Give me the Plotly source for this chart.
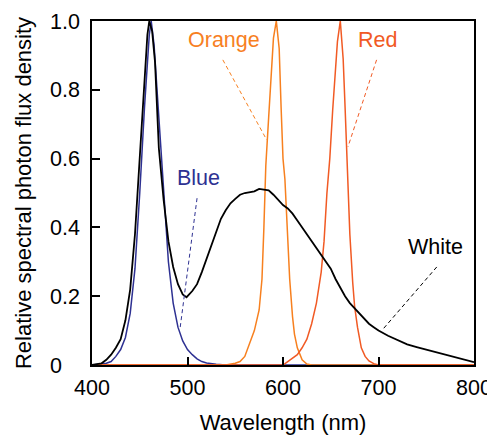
import plotly.graph_objects as go

# ---- data ----
blue_wl = [400, 410, 415, 420, 425, 430, 435, 440, 445, 450, 455, 460, 462, 465, 470, 475, 480, 485, 490, 495, 500, 505, 510, 515, 520, 530, 540, 560, 600, 700, 800]
blue_val = [0, 0.002, 0.005, 0.01, 0.025, 0.045, 0.08, 0.15, 0.28, 0.5, 0.75, 0.96, 1.0, 0.93, 0.72, 0.5, 0.3, 0.18, 0.11, 0.07, 0.045, 0.03, 0.018, 0.01, 0.006, 0.002, 0, 0, 0, 0, 0]

white_wl = [400, 410, 415, 420, 425, 430, 435, 440, 445, 450, 455, 458, 460, 463, 466, 470, 475, 480, 485, 490, 495, 499,
            505, 510, 515, 520, 525, 530, 535, 540, 545, 550, 555, 560, 565, 570, 575, 580, 585, 590, 595, 600,
            605, 610, 615, 620, 625, 630, 635, 640, 645, 650, 655, 660, 665, 670, 675, 680, 685, 690, 695, 700,
            710, 720, 730, 740, 750, 760, 770, 780, 790, 800]
white_val = [0, 0.005, 0.015, 0.03, 0.05, 0.075, 0.13, 0.22, 0.38, 0.6, 0.82, 0.96, 1.0, 0.97, 0.88, 0.63, 0.48, 0.36, 0.285, 0.235, 0.205, 0.197,
             0.215, 0.235, 0.27, 0.31, 0.35, 0.39, 0.425, 0.45, 0.47, 0.483, 0.495, 0.5, 0.503, 0.505, 0.512, 0.51, 0.508, 0.495, 0.48, 0.465,
             0.455, 0.44, 0.42, 0.40, 0.38, 0.36, 0.34, 0.32, 0.30, 0.28, 0.25, 0.225, 0.2, 0.18, 0.165, 0.15, 0.135, 0.12, 0.11, 0.10,
             0.085, 0.072, 0.06, 0.052, 0.045, 0.036, 0.03, 0.022, 0.015, 0.008]

orange_wl = [400, 540, 550, 555, 560, 565, 570, 575, 578, 580, 582, 585, 588, 590, 593, 596, 598, 600, 602, 605, 607, 610, 612, 615, 620, 625, 630, 800]
orange_val = [0, 0, 0.005, 0.01, 0.025, 0.06, 0.1, 0.16, 0.25, 0.4, 0.58, 0.72, 0.86, 0.95, 1.0, 0.92, 0.75, 0.6, 0.54, 0.36, 0.25, 0.14, 0.09, 0.05, 0.015, 0.003, 0, 0]

red_wl = [400, 600, 605, 610, 615, 620, 625, 630, 635, 640, 643, 646, 649, 652, 655, 657, 660, 661, 663, 665, 668, 670, 673, 675, 678, 682, 686, 690, 695, 700, 800]
red_val = [0, 0, 0.01, 0.02, 0.03, 0.05, 0.075, 0.12, 0.18, 0.27, 0.36, 0.5, 0.6, 0.74, 0.86, 0.94, 1.0, 0.97, 0.89, 0.75, 0.52, 0.38, 0.24, 0.17, 0.11, 0.05, 0.025, 0.012, 0.004, 0, 0]

x_ticks = [400, 500, 600, 700, 800]
y_ticks = [0, 0.2, 0.4, 0.6, 0.8, 1.0]
y_ticktext = ["0\u00a0\u00a0\u00a0", "0.2", "0.4", "0.6", "0.8", "1.0"]

# label text, label position, leader line (start -> end) in data units
labels = ["Blue", "Orange", "Red", "White"]
label_x = [511, 538, 698.5, 760]
label_y = [0.545, 0.945, 0.945, 0.344]
leader_x0 = [510, 537, 698, 761]
leader_y0 = [0.485, 0.887, 0.887, 0.285]
leader_x1 = [492, 583, 668, 704]
leader_y1 = [0.102, 0.654, 0.634, 0.102]

C_BLUE = "#2e3192"
C_ORANGE = "#f7801f"
C_RED = "#f15a24"
C_WHITE = "#000000"
colors = [C_BLUE, C_ORANGE, C_RED, C_WHITE]

FONT = "Arial, 'Liberation Sans', sans-serif"
TICK_SIZE = 21.5
TITLE_SIZE = 22
LABEL_SIZE = 21.5

fig = go.Figure()
fig.add_trace(go.Scatter(x=blue_wl, y=blue_val, mode="lines", line=dict(color=C_BLUE, width=1.5), name="Blue"))
fig.add_trace(go.Scatter(x=orange_wl, y=orange_val, mode="lines", line=dict(color=C_ORANGE, width=1.5), name="Orange"))
fig.add_trace(go.Scatter(x=red_wl, y=red_val, mode="lines", line=dict(color=C_RED, width=1.5), name="Red"))
fig.add_trace(go.Scatter(x=white_wl, y=white_val, mode="lines", line=dict(color=C_WHITE, width=1.8), name="White"))

for i, lab in enumerate(labels):
    fig.add_shape(type="line", xref="x", yref="y",
                  x0=leader_x0[i], y0=leader_y0[i], x1=leader_x1[i], y1=leader_y1[i],
                  line=dict(color=colors[i], width=1, dash="4px,3px"))
    fig.add_annotation(x=label_x[i], y=label_y[i], xref="x", yref="y", text=lab,
                       showarrow=False, font=dict(family=FONT, size=LABEL_SIZE, color=colors[i]))

# the page body adds an 8px offset, so the figure is 487x427 with margins compensated
fig.update_layout(
    width=487, height=427,
    margin=dict(l=84, r=21, t=13, b=70, autoexpand=False),
    paper_bgcolor="white", plot_bgcolor="white",
    showlegend=False,
    font=dict(family=FONT, size=TICK_SIZE, color="black"),
)
fig.update_xaxes(range=[400, 800], tickvals=x_ticks, ticks="inside", ticklen=8, tickwidth=1.5,
                 tickcolor="black", showline=True, linecolor="black", linewidth=1.5, mirror=True,
                 showgrid=False, zeroline=False, automargin=False, ticklabelstandoff=2,
                 title=dict(text="Wavelength (nm)", standoff=16, font=dict(size=TITLE_SIZE)),
                 tickfont=dict(size=TICK_SIZE))
fig.update_yaxes(range=[0, 1.0], tickvals=y_ticks, ticktext=y_ticktext, ticks="inside", ticklen=8, tickwidth=1.5,
                 tickcolor="black", showline=True, linecolor="black", linewidth=1.5, mirror=True,
                 showgrid=False, zeroline=False, automargin=False, ticklabelstandoff=6,
                 title=dict(text="Relative spectral photon flux density", standoff=12, font=dict(size=TITLE_SIZE)),
                 tickfont=dict(size=TICK_SIZE))

fig.write_html("out.html")
